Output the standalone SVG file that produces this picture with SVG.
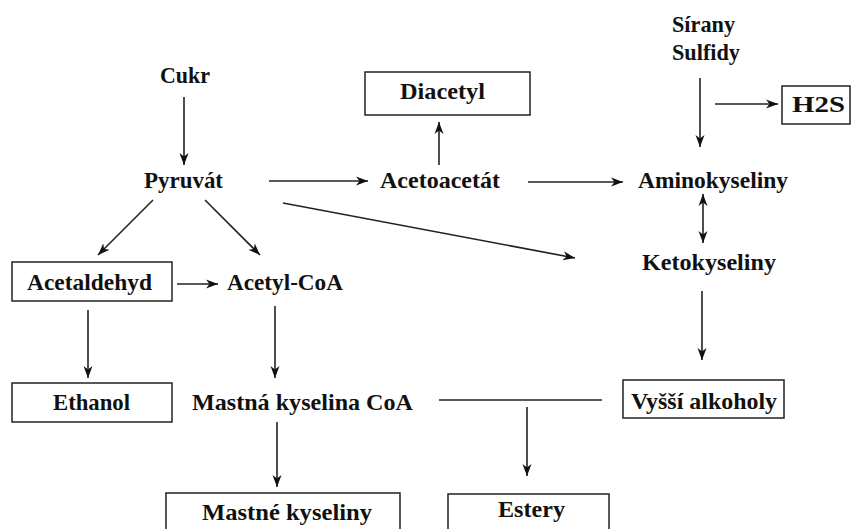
<svg xmlns="http://www.w3.org/2000/svg" width="853" height="529" viewBox="0 0 853 529">
<defs>
<style>
text{font-family:"Liberation Serif","Times New Roman",serif;font-weight:bold;font-size:23px;fill:#111;}
.box{fill:#fff;stroke:#222;stroke-width:1.5;}
.c line{stroke:#222;stroke-width:1.6;fill:none;}
.a{marker-end:url(#ah);}
.d{marker-start:url(#ah);marker-end:url(#ah);}
</style>
<marker id="ah" markerUnits="userSpaceOnUse" markerWidth="13" markerHeight="10" refX="12" refY="5" orient="auto-start-reverse">
<path d="M0,0.5 L12,5 L0,9.5 L3.5,5 Z" fill="#111"/>
</marker>
</defs>
<rect width="853" height="529" fill="#fff"/>
<g class="c" id="connectors">
<line class="a" x1="184" y1="97" x2="184" y2="165"/>
<line class="a" x1="269" y1="181" x2="368" y2="181"/>
<line class="a" x1="439" y1="165" x2="439" y2="122"/>
<line class="a" x1="528" y1="182" x2="623" y2="182"/>
<line class="a" x1="700" y1="78" x2="700" y2="147"/>
<line class="a" x1="715" y1="104" x2="778" y2="104"/>
<line class="a" x1="153" y1="200" x2="98" y2="255"/>
<line class="a" x1="205" y1="200" x2="260" y2="255"/>
<line class="a" x1="283" y1="203" x2="575" y2="258"/>
<line class="d" x1="703" y1="194" x2="703" y2="243"/>
<line class="a" x1="177" y1="284" x2="218" y2="284"/>
<line class="a" x1="88" y1="310" x2="88" y2="378"/>
<line class="a" x1="275" y1="306" x2="275" y2="378"/>
<line class="a" x1="702" y1="291" x2="702" y2="360"/>
<line class="a" x1="277" y1="422" x2="277" y2="487"/>
<line x1="439" y1="400" x2="602" y2="400"/>
<line class="a" x1="527" y1="407" x2="527" y2="476"/>
</g>
<g id="cukr"><text x="160" y="83" textLength="50" lengthAdjust="spacingAndGlyphs">Cukr</text></g>
<g id="pyruvat"><text x="144" y="188" textLength="79" lengthAdjust="spacingAndGlyphs">Pyruvát</text></g>
<g id="acetoacetat"><text x="380" y="188" textLength="120" lengthAdjust="spacingAndGlyphs">Acetoacetát</text></g>
<g id="diacetyl"><rect class="box" x="365" y="72" width="165" height="43"/><text x="400" y="99" textLength="85" lengthAdjust="spacingAndGlyphs">Diacetyl</text></g>
<g id="aminokyseliny"><text x="638" y="188" textLength="150" lengthAdjust="spacingAndGlyphs">Aminokyseliny</text></g>
<g id="sirany"><text x="672" y="32" textLength="63" lengthAdjust="spacingAndGlyphs">Sírany</text><text x="672" y="60" textLength="68" lengthAdjust="spacingAndGlyphs">Sulfidy</text></g>
<g id="h2s"><rect class="box" x="782" y="86" width="68" height="38"/><text x="792" y="112" textLength="53" lengthAdjust="spacingAndGlyphs">H2S</text></g>
<g id="acetaldehyd"><rect class="box" x="12" y="262" width="160" height="39"/><text x="27" y="290" textLength="125" lengthAdjust="spacingAndGlyphs">Acetaldehyd</text></g>
<g id="acetylcoa"><text x="227" y="290" textLength="116" lengthAdjust="spacingAndGlyphs">Acetyl-CoA</text></g>
<g id="ketokyseliny"><text x="642" y="270" textLength="134" lengthAdjust="spacingAndGlyphs">Ketokyseliny</text></g>
<g id="ethanol"><rect class="box" x="12" y="383" width="160" height="39"/><text x="53" y="410" textLength="77" lengthAdjust="spacingAndGlyphs">Ethanol</text></g>
<g id="mastnakyselinacoa"><text x="192" y="410" textLength="221" lengthAdjust="spacingAndGlyphs">Mastná kyselina CoA</text></g>
<g id="vyssialkoholy"><rect class="box" x="623" y="380" width="161" height="38"/><text x="631" y="409" textLength="146" lengthAdjust="spacingAndGlyphs">Vyšší alkoholy</text></g>
<g id="mastnekyseliny"><rect class="box" x="166" y="493" width="234" height="45"/><text x="202" y="520" textLength="170" lengthAdjust="spacingAndGlyphs">Mastné kyseliny</text></g>
<g id="estery"><rect class="box" x="448" y="494" width="161" height="44"/><text x="498" y="517" textLength="67" lengthAdjust="spacingAndGlyphs">Estery</text></g>
</svg>
